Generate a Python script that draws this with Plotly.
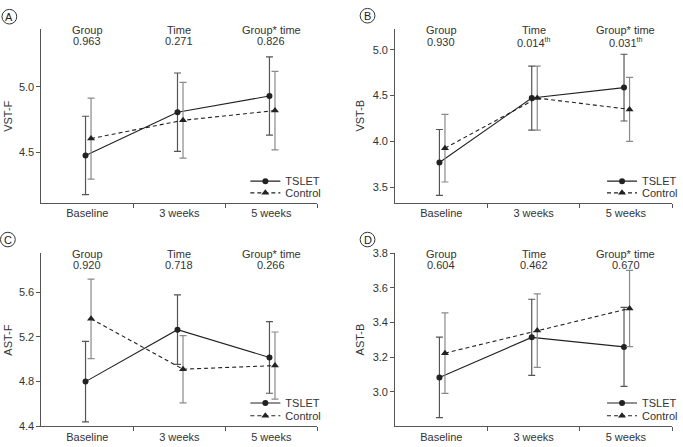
import plotly.graph_objects as go

weeks = ["Baseline", "3 weeks", "5 weeks"]
panels = ["A", "B", "C", "D"]
y_titles = ["VST-F", "VST-B", "AST-F", "AST-B"]

# mean and SD
tslet_mean = {
    "A": [4.475, 4.806, 4.930],
    "B": [3.769, 4.473, 4.587],
    "C": [4.800, 5.264, 5.016],
    "D": [3.083, 3.314, 3.259],
}
tslet_sd = {
    "A": [0.30, 0.30, 0.30],
    "B": [0.36, 0.35, 0.365],
    "C": [0.36, 0.31, 0.32],
    "D": [0.232, 0.22, 0.228],
}
control_mean = {
    "A": [4.604, 4.744, 4.818],
    "B": [3.925, 4.473, 4.349],
    "C": [5.361, 4.911, 4.943],
    "D": [3.223, 3.353, 3.481],
}
control_sd = {
    "A": [0.31, 0.29, 0.30],
    "B": [0.37, 0.35, 0.35],
    "C": [0.355, 0.30, 0.30],
    "D": [0.232, 0.212, 0.22],
}

# p-values printed above each panel
SUP = "<sup><span style='font-size:7px'>th</span></sup>"
p_group = ["0.963", "0.930", "0.920", "0.604"]
p_time = ["0.271", "0.014" + SUP, "0.718", "0.462"]
p_inter = ["0.826", "0.031" + SUP, "0.266", "0.670"]
effect_names = ["Group", "Time", "Group* time"]

y_ranges = [[4.114, 5.44], [3.33, 5.224], [4.4, 5.947], [2.8, 3.8]]
y_ticks = [[4.5, 5.0], [3.5, 4.0, 4.5, 5.0], [4.4, 4.8, 5.2, 5.6], [3.0, 3.2, 3.4, 3.6, 3.8]]

W, H = 683, 447
FONT = "Liberation Sans, Arial, sans-serif"
TXT = "#333333"
AX = "#555555"

fig = go.Figure()

x_dom = [[42 / W, 322 / W], [401 / W, 682 / W], [42 / W, 322 / W], [401 / W, 682 / W]]
y_dom = [[1 - 202 / H, 1 - 24 / H], [1 - 202 / H, 1 - 24 / H],
         [1 - 432 / H, 1 - 254 / H], [1 - 432 / H, 1 - 254 / H]]
legend_x = [249, 611, 249, 611]
legend_y = [(180, 192), (180, 192), (408, 421), (408, 421)]
letter_pos = [(9.5, 11), (373, 10), (8, 240), (373, 240)]
ytitle_x = [8, 365, 8, 365]
head_y = [(25, 36), (25, 37), (255, 266), (255, 266)]


def legend_box(x, y):
    return dict(x=x / W, y=1 - y / H, xanchor="left", yanchor="middle",
                bgcolor="rgba(0,0,0,0)", borderwidth=0,
                font=dict(family=FONT, size=11, color=TXT), itemwidth=30)


for i, p in enumerate(panels):
    n = "" if i == 0 else str(i + 1)
    xa, ya = "x" + n, "y" + n
    lg1 = "legend" + ("" if i == 0 else str(2 * i + 1))
    lg2 = "legend" + str(2 * i + 2)
    xs = list(range(len(weeks)))
    fig.add_trace(go.Scatter(
        x=[v - 0.02 for v in xs], y=tslet_mean[p], name="TSLET",
        xaxis=xa, yaxis=ya, legend=lg1, mode="lines+markers",
        line=dict(color="#222222", width=1.1),
        marker=dict(symbol="circle", size=6, color="#222222"),
        error_y=dict(type="data", array=tslet_sd[p], color="#555555", thickness=1.2, width=3.5),
    ))
    fig.add_trace(go.Scatter(
        x=[v + 0.04 for v in xs], y=control_mean[p], name="Control",
        xaxis=xa, yaxis=ya, legend=lg2, mode="lines+markers",
        line=dict(color="#222222", width=1.1, dash="4px,3px"),
        marker=dict(symbol="triangle-up", size=7, color="#222222"),
        error_y=dict(type="data", array=control_sd[p], color="#8a8a8a", thickness=1.2, width=3.5),
    ))

    fig.update_layout(**{
        "xaxis" + n: dict(
            domain=x_dom[i], anchor=ya, range=[-0.5, 2.5],
            tickvals=xs, ticktext=weeks, ticks="", showgrid=False, zeroline=False,
            showline=True, linecolor=AX, linewidth=1,
            minor=dict(tickvals=[0.5, 1.5, 2.5], ticks="outside", ticklen=4, tickcolor=AX),
            tickfont=dict(family=FONT, size=11, color=TXT),
        ),
        "yaxis" + n: dict(
            domain=y_dom[i], anchor=xa, range=y_ranges[i],
            tickvals=y_ticks[i], tickformat=".1f", ticks="outside", ticklen=4, tickcolor=AX,
            showgrid=False, zeroline=False, showline=True, linecolor=AX, linewidth=1,
            tickfont=dict(family=FONT, size=11, color=TXT),
        ),
        lg1: legend_box(legend_x[i], legend_y[i][0]),
        lg2: legend_box(legend_x[i], legend_y[i][1]),
    })

    # y axis title
    fig.add_annotation(
        x=ytitle_x[i] / W, y=(y_dom[i][0] + y_dom[i][1]) / 2, xref="paper", yref="paper",
        xanchor="center", yanchor="middle",
        text=y_titles[i], textangle=-90, showarrow=False,
        font=dict(family=FONT, size=11, color=TXT),
    )
    # p-value headers
    vals = [p_group[i], p_time[i], p_inter[i]]
    for j in range(3):
        fig.add_annotation(x=j, y=1 - head_y[i][0] / H, xref=xa, yref="paper",
                           text=effect_names[j], showarrow=False,
                           xanchor="center", yanchor="middle",
                           font=dict(family=FONT, size=11, color=TXT))
        fig.add_annotation(x=j, y=1 - head_y[i][1] / H, xref=xa, yref="paper",
                           text=vals[j], showarrow=False,
                           xanchor="center", yanchor="middle",
                           font=dict(family=FONT, size=11, color=TXT))
    # circled panel letter
    cx, cy = letter_pos[i]
    r = 7.5
    fig.add_shape(type="circle", xref="paper", yref="paper",
                  x0=(cx - r) / W, x1=(cx + r) / W, y0=1 - (cy + r) / H, y1=1 - (cy - r) / H,
                  line=dict(color="#333333", width=1))
    fig.add_annotation(x=cx / W, y=1 - cy / H, xref="paper", yref="paper", text=p,
                       xanchor="center", yanchor="middle",
                       showarrow=False, font=dict(family=FONT, size=11, color="#222222"))

fig.update_layout(
    width=W, height=H,
    margin=dict(l=0, r=0, t=0, b=0),
    paper_bgcolor="white", plot_bgcolor="white",
    showlegend=True,
)

fig.write_html("out.html", config={"displayModeBar": False},
               post_script="document.body.style.margin='0px';")
